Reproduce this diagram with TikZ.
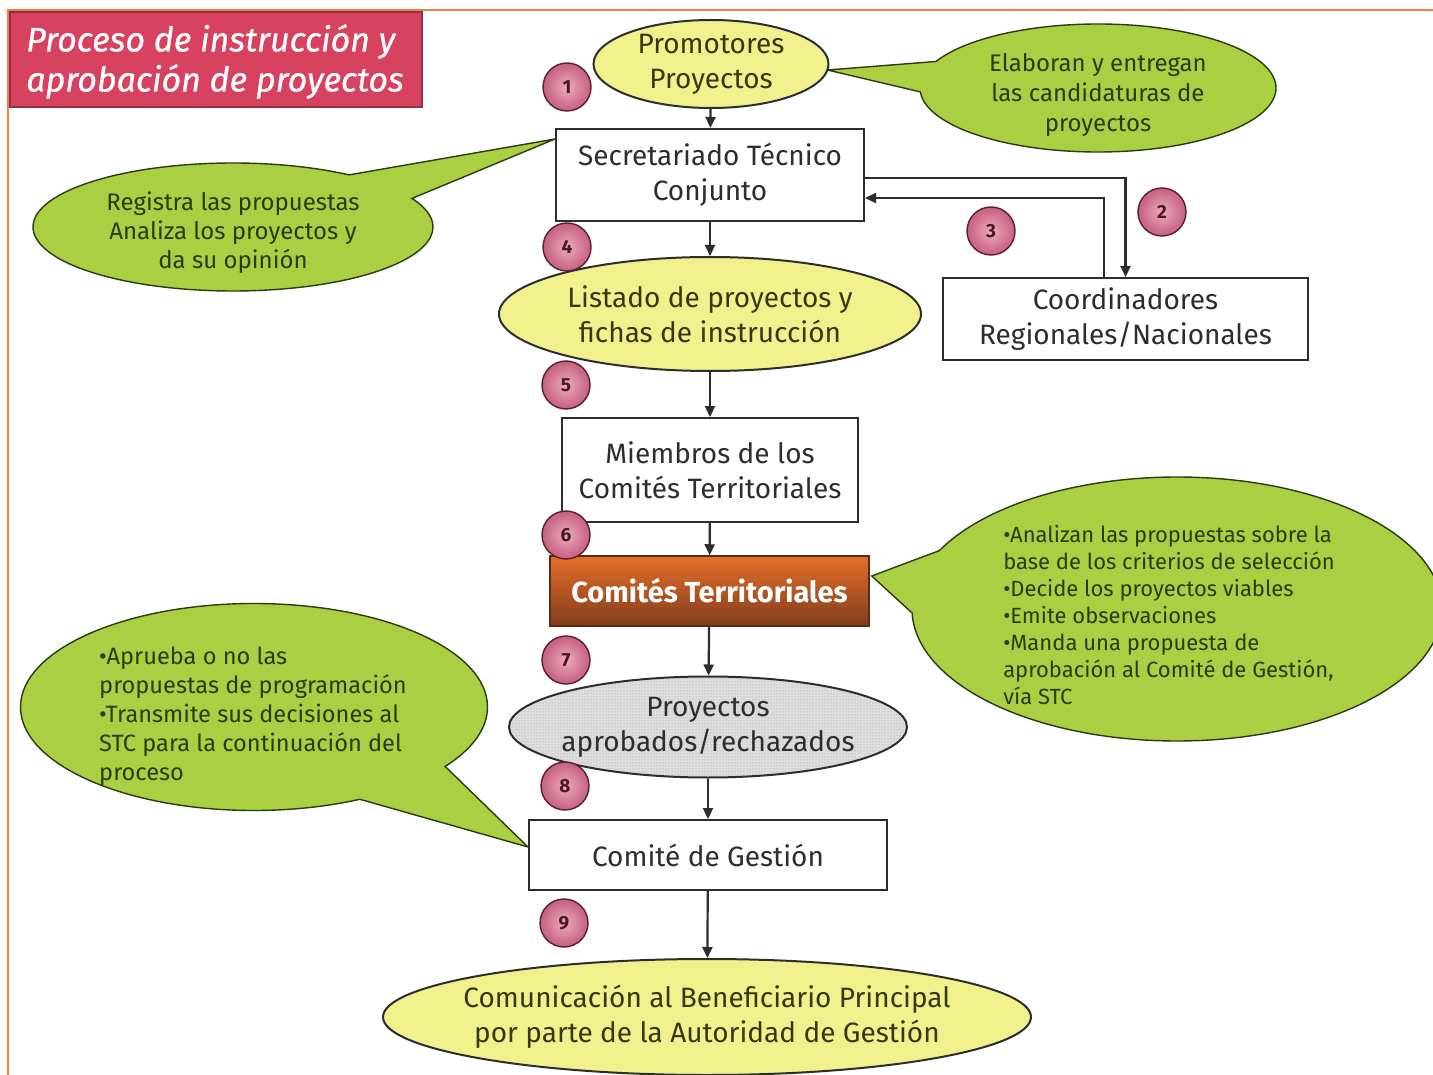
\documentclass[tikz,border=0pt]{standalone}
\usepackage{fontspec}
\setmainfont{Fira Sans}
\newfontfamily\titlefont{Fira Sans}[FakeBold=0.7]
\usetikzlibrary{shapes.geometric,shapes.callouts,arrows.meta,patterns,calc}
\pgfdeclarelayer{bg}
\pgfsetlayers{bg,main}
\definecolor{frameor}{RGB}{236,128,72}
\definecolor{titlered}{RGB}{214,66,96}
\definecolor{titleedge}{RGB}{150,45,65}
\definecolor{yel}{RGB}{240,241,140}
\definecolor{grn}{RGB}{170,207,66}
\definecolor{grnedge}{RGB}{40,60,20}
\definecolor{linec}{RGB}{45,45,45}
\definecolor{txt}{RGB}{45,45,45}
\definecolor{gtxt}{RGB}{40,60,15}
\definecolor{ytxt}{RGB}{55,55,20}
\definecolor{ctop}{RGB}{228,112,42}
\definecolor{cbot}{RGB}{130,60,28}
\definecolor{pinkin}{RGB}{238,170,192}
\definecolor{pinkout}{RGB}{196,96,126}
\definecolor{pinkedge}{RGB}{90,30,45}
\definecolor{grayfill}{RGB}{222,222,222}
\begin{document}
\begin{tikzpicture}[x=1pt,y=-1pt,
 box/.style={rectangle, draw=linec, line width=2pt, fill=white, inner sep=0pt, text=txt, align=center, font=\fontsize{28}{35}\selectfont},
 yell/.style={ellipse, draw=linec, line width=2pt, fill=yel, inner sep=-25pt, text=ytxt, align=center, font=\fontsize{28}{35}\selectfont},
 ctbox/.style={rectangle, top color=ctop, bottom color=cbot, draw=cbot!70!black, line width=1.5pt, minimum width=319pt, minimum height=70pt, inner sep=0pt, text=white, font=\bfseries\fontsize{29}{30}\selectfont},
 bubble/.style={ellipse callout, draw=grnedge, line width=1.4pt, fill=grn, inner sep=0pt, callout pointer arc=28},
 btext/.style={text=gtxt, inner sep=0pt},
 numc/.style={circle, draw=pinkedge, line width=1.4pt, inner color=pinkin, outer color=pinkout, minimum size=48pt, inner sep=0pt, font=\bfseries\fontsize{19}{19}\selectfont, text=pinkedge!80!black},
 arr/.style={draw=linec, line width=2.2pt, -{Triangle[length=11pt,width=10pt]}}
]
\useasboundingbox (0,0) rectangle (1433,1075);

% main nodes
\node[yell, minimum width=235pt, minimum height=88pt] (prom) at (711,64) {Promotores\\Proyectos};
\node[box, minimum width=308pt, minimum height=92pt] (sec) at (710,175) {Secretariado Técnico\\Conjunto};
\node[box, minimum width=365pt, minimum height=82pt] (coord) at (1125.5,319) {Coordinadores\\Regionales/Nacionales};
\node[yell, minimum width=422pt, minimum height=114pt] (list) at (710,314) {Listado de proyectos y\\fichas de instrucción};
\node[box, minimum width=296pt, minimum height=104pt] (miem) at (710,470) {Miembros de los\\Comités Territoriales};
\node[ctbox] (ct) at (709.5,591) {Comités Territoriales};
\node[ellipse, draw=linec, line width=2pt, preaction={fill=grayfill}, pattern=dots, pattern color=gray!80, minimum width=398pt, minimum height=101pt, inner sep=-25pt, text=txt, align=center, font=\fontsize{28}{35}\selectfont] (proy) at (708,727) {Proyectos\\aprobados/rechazados};
\node[box, minimum width=358pt, minimum height=70pt] (cg) at (708,855) {Comité de Gestión};
\node[yell, minimum width=648pt, minimum height=116pt] (com) at (707,1017) {Comunicación al Beneficiario Principal\\por parte de la Autoridad de Gestión};

\begin{pgfonlayer}{bg}
\fill[white] (0,0) rectangle (1433,1075);
% frame
\draw[frameor, line width=2.6pt] (8,1075) -- (8,10) -- (1433,10);
% callouts
\node[bubble, minimum width=356pt, minimum height=128pt, callout absolute pointer={($(prom.east)+(-2,6)$)},
  label={[btext, align=center, font=\fontsize{24}{30}\selectfont, yshift=-7pt]center:{Elaboran y entregan\\las candidaturas de\\proyectos}}] (c1) at (1098,88) {};
\node[bubble, minimum width=400pt, minimum height=128pt, callout absolute pointer={($(sec.north west)+(0,11)$)},
  label={[btext, align=center, font=\fontsize{24}{29}\selectfont, yshift=-6pt]center:{Registra las propuestas\\Analiza los proyectos y\\da su opinión}}] (c2) at (233,227) {};
\node[bubble, minimum width=530pt, minimum height=264pt, callout absolute pointer={($(ct.east)+(2,-15)$)},
  label={[btext, align=left, font=\fontsize{22}{27}\selectfont, yshift=-6pt, xshift=-8pt]center:{•Analizan las propuestas sobre la\\base de los criterios de selección\\•Decide los proyectos viables\\•Emite observaciones\\•Manda una propuesta de\\aprobación al Comité de Gestión,\\vía STC}}] (c3) at (1177,609) {};
\node[bubble, minimum width=467pt, minimum height=207pt, callout absolute pointer={($(cg.north west)+(0,28)$)},
  label={[btext, align=left, font=\fontsize{23.6}{29}\selectfont, yshift=-9pt, xshift=-1pt]center:{•Aprueba o no las\\propuestas de programación\\•Transmite sus decisiones al\\STC para la continuación del\\proceso}}] (c4) at (254,707) {};
\end{pgfonlayer}

% title
\node[rectangle, fill=titlered, draw=titleedge, line width=1.5pt, minimum width=412pt, minimum height=95pt, inner sep=0pt] (title) at (216,59.5) {};
\node[text=white, align=left, inner sep=0pt, font=\titlefont\itshape\fontsize{34}{40}\selectfont] at ($(title)+(-1,2)$) {Proceso de instrucción y\\aprobación de proyectos};

% connectors
\draw[arr] (prom) -- (sec);
\draw[arr] ($(sec.east)+(0,3)$) -| (coord.north);
\draw[arr] ($(coord.north)+(-21.5,0)$) |- ($(sec.east)+(0,23)$);
\draw[arr] (sec) -- (list);
\draw[arr] (list) -- (miem);
\draw[arr] (miem) -- (ct);
\draw[arr] (ct) -- (proy);
\draw[arr] (proy) -- (cg);
\draw[arr] (cg) -- (com);

% numbered circles
\node[numc] (n1) at (567,87) {1};
\node[numc] (n2) at (1162,212) {2};
\node[numc] (n3) at (991,231) {3};
\node[numc] (n4) at (567,247) {4};
\node[numc] (n5) at (566,385) {5};
\node[numc] (n6) at (566,535) {6};
\node[numc] (n7) at (566,660) {7};
\node[numc] (n8) at (565,786) {8};
\node[numc] (n9) at (564,923) {9};
\end{tikzpicture}
\end{document}
